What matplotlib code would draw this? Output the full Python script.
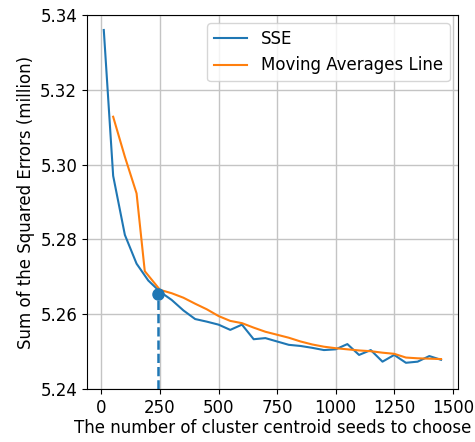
import matplotlib
matplotlib.use("Agg")
import matplotlib.pyplot as plt

sse_x = [10, 50, 100, 150, 200, 250, 300, 350, 400, 450, 500, 550, 600, 650, 700,
         750, 800, 850, 900, 950, 1000, 1050, 1100, 1150, 1200, 1250, 1300, 1350, 1400, 1450]
sse_y = [5.336, 5.297, 5.2812, 5.2735, 5.2690, 5.2660, 5.2638, 5.2610, 5.2587, 5.2580,
         5.2572, 5.2558, 5.2572, 5.2533, 5.2536, 5.2527, 5.2518, 5.2515, 5.2510, 5.2504,
         5.2506, 5.2520, 5.2491, 5.2504, 5.2473, 5.2491, 5.2470, 5.2473, 5.2488, 5.2478]

ma_x = [50, 100, 150, 185, 250, 300, 350, 400, 450, 500, 550, 600, 650, 700, 750, 800,
        850, 900, 950, 1000, 1050, 1100, 1150, 1200, 1250, 1300, 1350, 1400, 1450]
ma_y = [5.3128, 5.3021, 5.2923, 5.2715, 5.2665, 5.2656, 5.2644, 5.2628, 5.2613, 5.2595,
        5.2582, 5.2576, 5.2564, 5.2553, 5.2545, 5.2537, 5.2527, 5.2519, 5.2513, 5.2509,
        5.2506, 5.2503, 5.2501, 5.2497, 5.2494, 5.2484, 5.2482, 5.2481, 5.2480]

elbow_x = 240
elbow_y = 5.2655

fig = plt.figure(figsize=(4.75, 4.42), dpi=100)
ax = fig.add_axes([0.183, 0.12, 0.781, 0.846])

ax.plot(sse_x, sse_y, color="#1f77b4", lw=1.5, label="SSE")
ax.plot(ma_x, ma_y, color="#ff7f0e", lw=1.5, label="Moving Averages Line")
ax.plot([elbow_x], [elbow_y], "o", color="#1f77b4", ms=8)
ax.plot([elbow_x, elbow_x], [5.24, elbow_y], "--", color="#1f77b4", lw=1.8)

ax.set_ylim(5.24, 5.34)
ax.set_yticks([5.24, 5.26, 5.28, 5.30, 5.32, 5.34])
ax.set_yticklabels(["5.24", "5.26", "5.28", "5.30", "5.32", "5.34"])
ax.set_xticks([0, 250, 500, 750, 1000, 1250, 1500])
ax.grid(True, color="#c4c4c4", lw=1)
ax.set_axisbelow(True)
ax.tick_params(labelsize=12)
ax.set_xlabel("The number of cluster centroid seeds to choose", fontsize=12, labelpad=2)
ax.set_ylabel("Sum of the Squared Errors (million)", fontsize=12)
ax.legend(loc="upper right", fontsize=12)

fig.savefig("out.png", dpi=100)
